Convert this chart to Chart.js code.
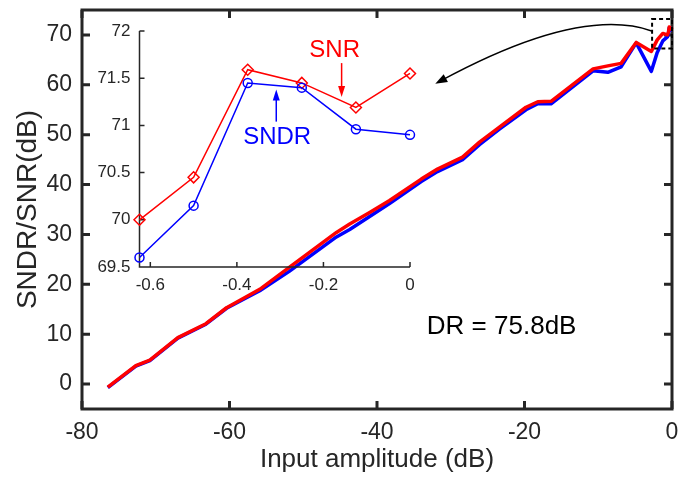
<!DOCTYPE html>
<html>
<head>
<meta charset="utf-8">
<title>SNDR/SNR vs input amplitude</title>
<script src="https://cdn.jsdelivr.net/npm/chart.js@4.4.1/dist/chart.umd.min.js"></script>
<style>
  body { margin: 0; background: #fff; }
  #wrap { position: relative; width: 694px; height: 481px; }
  #wrap canvas { position: absolute; left: 0; top: 0; }
</style>
</head>
<body>
<div id="wrap">
  <canvas id="mainChart" width="694" height="481"></canvas>
  <canvas id="insetChart" width="694" height="481"></canvas>
</div>
<script>
// main sweep (dB)
const inputDb = [-76.5, -72.7, -70.8, -67.0, -63.2, -60.4, -55.9, -51.9, -45.5, -43.7, -41.0, -38.3,
  -34.0, -31.8, -28.4, -26.1, -23.4, -19.8, -18.2, -16.4, -10.7, -8.7, -6.9, -4.85, -2.8, -2.0, -1.25,
  -0.625, -0.5, -0.375, -0.25, -0.125, 0];
const snrDb = [-0.6, 3.7, 4.8, 9.3, 12.1, 15.3, 19.0, 23.4, 30.4, 32.1, 34.4, 36.8,
  41.1, 43.1, 45.5, 48.5, 51.5, 55.5, 56.6, 56.7, 63.2, 63.8, 64.3, 68.5, 66.7, 69.0, 70.3,
  70.0, 70.45, 71.59, 71.45, 71.19, 71.55];
const sndrDb = [-0.7, 3.6, 4.7, 9.2, 12.0, 15.2, 18.7, 22.6, 29.5, 31.0, 33.6, 36.2,
  40.6, 42.6, 45.0, 48.0, 51.1, 55.0, 56.2, 56.2, 62.8, 62.5, 63.6, 68.4, 62.7, 66.5, 68.8,
  69.6, 70.15, 71.45, 71.40, 70.96, 70.90];
const xTicks = [-80, -60, -40, -20, 0];
const yTicks = [0, 10, 20, 30, 40, 50, 60, 70];

// zoomed part near full scale
const zoomInput = [-0.625, -0.5, -0.375, -0.25, -0.125, 0];
const zoomSnr = [70.0, 70.45, 71.59, 71.45, 71.19, 71.55];
const zoomSndr = [69.6, 70.15, 71.45, 71.40, 70.96, 70.90];
const zoomXTicks = [-0.6, -0.4, -0.2, 0];
const zoomYTicks = [69.5, 70, 70.5, 71, 71.5, 72];

const drText = 'DR = 75.8dB';

const axisColor = '#262626';
const fontFamily = '"Liberation Sans", Arial, Helvetica, sans-serif';
Chart.defaults.font.family = fontFamily;
Chart.defaults.color = axisColor;

function toPoints(xs, ys) {
    return xs.map((x, i) => ({ x: x, y: ys[i] }));
}

// annotation anchors, in data units of the chart they belong to
const zoomBox = { x0: -2.7, x1: 0, y0: 67.3, y1: 73.2 };
const curveStart = [-2.76, 70.8], curveBend = [-12.5, 75.9], curveEnd = [-32.1, 60.2];
const drAt = [-23.1, 11.4];
const snrLabelAt = [-0.174, 71.8], snrArrow = [-0.158, 71.66, 71.30];
const sndrLabelAt = [-0.307, 70.87], sndrArrow = [-0.309, 71.04, 71.38];

function arrowHead(ctx, tipX, tipY, ang, len, wid) {
    const bx = tipX - Math.cos(ang) * len, by = tipY - Math.sin(ang) * len;
    const nx = -Math.sin(ang) * wid / 2, ny = Math.cos(ang) * wid / 2;
    ctx.beginPath();
    ctx.moveTo(tipX, tipY);
    ctx.lineTo(bx + nx, by + ny);
    ctx.lineTo(bx - nx, by - ny);
    ctx.closePath();
    ctx.fill();
}

function vArrow(ctx, xs, ys, spec, color) {
    const px = xs.getPixelForValue(spec[0]);
    const y0 = ys.getPixelForValue(spec[1]), y1 = ys.getPixelForValue(spec[2]);
    const ang = Math.atan2(y1 - y0, 0);
    ctx.strokeStyle = color; ctx.fillStyle = color; ctx.lineWidth = 1.5;
    ctx.beginPath();
    ctx.moveTo(px, y0);
    ctx.lineTo(px, y1 - Math.sin(ang) * 6);
    ctx.stroke();
    arrowHead(ctx, px, y1, ang, 11, 7);
}

function noEdgePadding(s) {
    s.paddingTop = 0; s.paddingBottom = 0; s.paddingLeft = 0; s.paddingRight = 0;
}

const mainFrame = {
    id: 'mainFrame',
    beforeDatasetsDraw(chart) {
        const { ctx, chartArea: a, scales: { x, y } } = chart;
        ctx.save();
        ctx.strokeStyle = axisColor;
        ctx.lineWidth = 3;
        ctx.strokeRect(a.left, a.top, a.right - a.left, a.bottom - a.top);
        ctx.beginPath();
        xTicks.forEach(v => {
            const px = x.getPixelForValue(v);
            ctx.moveTo(px, a.bottom); ctx.lineTo(px, a.bottom - 8);
            ctx.moveTo(px, a.top); ctx.lineTo(px, a.top + 8);
        });
        yTicks.forEach(v => {
            const py = y.getPixelForValue(v);
            ctx.moveTo(a.left, py); ctx.lineTo(a.left + 8, py);
            ctx.moveTo(a.right, py); ctx.lineTo(a.right - 8, py);
        });
        ctx.stroke();
        ctx.restore();
    },
    afterDatasetsDraw(chart) {
        const { ctx, scales: { x, y } } = chart;
        ctx.save();
        // dashed zoom window
        ctx.strokeStyle = '#000';
        ctx.lineWidth = 2;
        ctx.setLineDash([4, 3]);
        const bx0 = x.getPixelForValue(zoomBox.x0), bx1 = x.getPixelForValue(zoomBox.x1);
        const by0 = y.getPixelForValue(zoomBox.y1), by1 = y.getPixelForValue(zoomBox.y0);
        ctx.strokeRect(bx0, by0, bx1 - bx0, by1 - by0);
        ctx.setLineDash([]);

        // curved arrow to the inset
        const sx = x.getPixelForValue(curveStart[0]), sy = y.getPixelForValue(curveStart[1]);
        const cx = x.getPixelForValue(curveBend[0]), cy = y.getPixelForValue(curveBend[1]);
        const ex = x.getPixelForValue(curveEnd[0]), ey = y.getPixelForValue(curveEnd[1]);
        const ang = Math.atan2(ey - cy, ex - cx);
        ctx.lineWidth = 1.5;
        ctx.beginPath();
        ctx.moveTo(sx, sy);
        ctx.quadraticCurveTo(cx, cy, ex - Math.cos(ang) * 6, ey - Math.sin(ang) * 6);
        ctx.stroke();
        ctx.fillStyle = '#000';
        arrowHead(ctx, ex, ey, ang, 12, 9);

        // DR label
        ctx.fillStyle = '#000';
        ctx.font = '26px ' + fontFamily;
        ctx.textAlign = 'center';
        ctx.textBaseline = 'middle';
        ctx.fillText(drText, x.getPixelForValue(drAt[0]), y.getPixelForValue(drAt[1]));
        ctx.restore();
    }
};

new Chart(document.getElementById('mainChart').getContext('2d'), {
    type: 'line',
    data: {
        datasets: [
            { label: 'SNR', data: toPoints(inputDb, snrDb), borderColor: '#ff0000', borderWidth: 3.5,
              pointRadius: 0, tension: 0, clip: false, borderJoinStyle: 'round', order: 1 },
            { label: 'SNDR', data: toPoints(inputDb, sndrDb), borderColor: '#0000ff', borderWidth: 3.5,
              pointRadius: 0, tension: 0, clip: false, borderJoinStyle: 'round', order: 2 }
        ]
    },
    options: {
        responsive: false,
        animation: false,
        events: [],
        layout: { padding: { left: 0, top: 10, right: 22, bottom: 0 } },
        plugins: { legend: { display: false }, tooltip: { enabled: false } },
        scales: {
            x: {
                type: 'linear', min: -80, max: 0,
                afterBuildTicks: s => { s.ticks = xTicks.map(v => ({ value: v })); },
                afterFit: s => { s.height = 72; noEdgePadding(s); },
                grid: { display: false, drawTicks: false },
                border: { display: false },
                ticks: { color: axisColor, font: { size: 23 }, padding: 10, maxRotation: 0 },
                title: { display: true, text: 'Input amplitude (dB)', color: axisColor,
                         font: { size: 26 }, padding: { top: 0, bottom: 6 } }
            },
            y: {
                type: 'linear', min: -5, max: 75,
                afterBuildTicks: s => { s.ticks = yTicks.map(v => ({ value: v })); },
                afterFit: s => { s.width = 82; noEdgePadding(s); },
                grid: { display: false, drawTicks: false },
                border: { display: false },
                ticks: { color: axisColor, font: { size: 23 }, padding: 10 },
                title: { display: true, text: 'SNDR/SNR(dB)', color: axisColor,
                         font: { size: 28 }, padding: { top: 11, bottom: 0 } }
            }
        }
    },
    plugins: [mainFrame]
});

const insetFrame = {
    id: 'insetFrame',
    beforeDatasetsDraw(chart) {
        const { ctx, chartArea: a, scales: { x, y } } = chart;
        ctx.save();
        ctx.strokeStyle = axisColor;
        ctx.lineWidth = 1.5;
        ctx.beginPath();
        ctx.moveTo(a.left, a.top); ctx.lineTo(a.left, a.bottom); ctx.lineTo(a.right, a.bottom);
        zoomXTicks.forEach(v => {
            const px = x.getPixelForValue(v);
            ctx.moveTo(px, a.bottom); ctx.lineTo(px, a.bottom - 5);
        });
        zoomYTicks.forEach(v => {
            const py = y.getPixelForValue(v);
            ctx.moveTo(a.left, py); ctx.lineTo(a.left + 5, py);
        });
        ctx.stroke();
        ctx.restore();
    },
    afterDatasetsDraw(chart) {
        const { ctx, scales: { x, y } } = chart;
        ctx.save();
        vArrow(ctx, x, y, snrArrow, '#ff0000');
        vArrow(ctx, x, y, sndrArrow, '#0000ff');
        ctx.font = '24px ' + fontFamily;
        ctx.textAlign = 'center';
        ctx.textBaseline = 'middle';
        ctx.fillStyle = '#ff0000';
        ctx.fillText('SNR', x.getPixelForValue(snrLabelAt[0]), y.getPixelForValue(snrLabelAt[1]));
        ctx.fillStyle = '#0000ff';
        ctx.fillText('SNDR', x.getPixelForValue(sndrLabelAt[0]), y.getPixelForValue(sndrLabelAt[1]));
        ctx.restore();
    }
};

new Chart(document.getElementById('insetChart').getContext('2d'), {
    type: 'line',
    data: {
        datasets: [
            { label: 'SNDR', data: toPoints(zoomInput, zoomSndr), borderColor: '#0000ff', borderWidth: 1.5,
              pointStyle: 'circle', pointRadius: 4.5, pointBorderWidth: 1.5, pointBorderColor: '#0000ff',
              pointBackgroundColor: 'rgba(0,0,0,0)', tension: 0, clip: false },
            { label: 'SNR', data: toPoints(zoomInput, zoomSnr), borderColor: '#ff0000', borderWidth: 1.5,
              pointStyle: 'rectRot', pointRadius: 5.5, pointBorderWidth: 1.5, pointBorderColor: '#ff0000',
              pointBackgroundColor: 'rgba(0,0,0,0)', tension: 0, clip: false }
        ]
    },
    options: {
        responsive: false,
        animation: false,
        events: [],
        layout: { padding: { left: 0, top: 31, right: 284, bottom: 174 } },
        plugins: { legend: { display: false }, tooltip: { enabled: false } },
        scales: {
            x: {
                type: 'linear', min: -0.625, max: 0,
                afterBuildTicks: s => { s.ticks = zoomXTicks.map(v => ({ value: v })); },
                afterFit: s => { s.height = 40; noEdgePadding(s); },
                grid: { display: false, drawTicks: false },
                border: { display: false },
                ticks: { color: axisColor, font: { size: 17 }, padding: 8, maxRotation: 0,
                         callback: v => String(v) }
            },
            y: {
                type: 'linear', min: 69.5, max: 72,
                afterBuildTicks: s => { s.ticks = zoomYTicks.map(v => ({ value: v })); },
                afterFit: s => { s.width = 139.5; noEdgePadding(s); },
                grid: { display: false, drawTicks: false },
                border: { display: false },
                ticks: { color: axisColor, font: { size: 17 }, padding: 9,
                         callback: v => String(v) }
            }
        }
    },
    plugins: [insetFrame]
});
</script>
</body>
</html>
